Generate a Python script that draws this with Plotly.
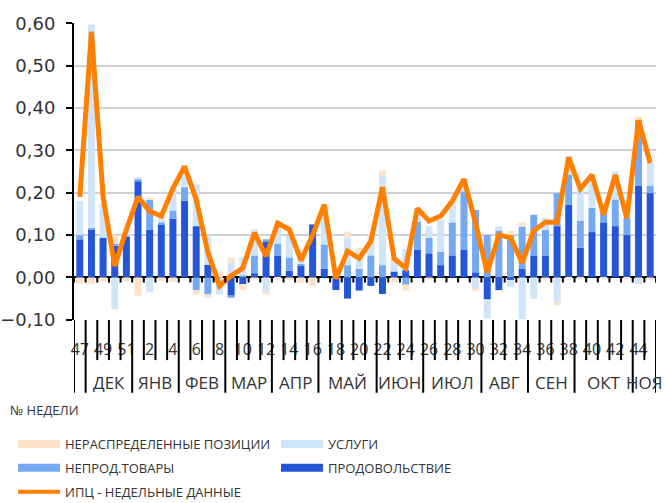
import plotly.graph_objects as go

# недели (ось X) и месяцы
weeks = ["47", "48", "49", "50", "51"] + [str(w) for w in range(1, 46)]
month_names = ["", "ДЕК", "ЯНВ", "ФЕВ", "МАР", "АПР", "МАЙ", "ИЮН", "ИЮЛ", "АВГ", "СЕН", "ОКТ", "НОЯ"]
month_sizes = [1, 4, 4, 4, 4, 4, 5, 4, 5, 4, 4, 5, 2]

# вклады в недельную инфляцию, п.п.
food = [0.09, 0.113, 0.094, 0.075, 0.097, 0.227, 0.112, 0.125, 0.139, 0.181,
        0.121, 0.03, 0.0, -0.043, -0.016, 0.01, 0.085, 0.052, 0.016, 0.027,
        0.125, 0.02, -0.03, -0.05, -0.031, -0.02, -0.039, 0.014, 0.017, 0.066,
        0.057, 0.029, 0.052, 0.066, 0.012, -0.052, -0.03, -0.006, 0.02, 0.052,
        0.052, 0.121, 0.172, 0.07, 0.107, 0.13, 0.121, 0.1, 0.217, 0.199]
nonfood = [0.01, 0.004, 0.0, 0.005, 0.0, 0.005, 0.073, 0.005, 0.019, 0.032,
           -0.03, -0.04, 0.0, -0.005, 0.005, 0.042, 0.005, 0.028, 0.031, 0.005,
           0.0, 0.058, 0.0, 0.029, 0.02, 0.052, 0.029, 0.0, -0.017, 0.065,
           0.036, 0.032, 0.078, 0.137, 0.147, 0.1, 0.111, 0.1, 0.1, 0.096,
           0.06, 0.078, 0.07, 0.064, 0.057, 0.022, 0.063, 0.04, 0.154, 0.018]
services = [0.08, 0.48, 0.08, -0.075, 0.01, 0.005, -0.035, 0.02, 0.06, 0.045,
            0.098, 0.07, -0.04, 0.035, 0.042, 0.061, -0.035, 0.045, 0.052, 0.013,
            0.0, 0.094, 0.025, 0.065, 0.039, 0.04, 0.211, 0.033, 0.05, 0.032,
            0.028, 0.076, 0.05, 0.025, -0.027, -0.044, 0.01, -0.016, -0.098, -0.05,
            0.028, -0.06, 0.045, 0.073, 0.07, 0.0, 0.066, 0.0, -0.016, 0.053]
unalloc = [-0.015, -0.015, -0.01, 0.02, -0.01, -0.043, 0.004, -0.008, -0.01, 0.005,
           -0.01, -0.008, 0.012, 0.012, -0.014, -0.005, -0.005, -0.003, -0.005, -0.012,
           -0.02, 0.0, 0.0, 0.014, 0.011, 0.01, 0.012, -0.012, -0.014, 0.0,
           -0.005, 0.0, 0.0, 0.005, -0.004, 0.0, 0.0, 0.01, 0.01, 0.0,
           -0.005, -0.006, -0.003, -0.003, 0.0, -0.003, 0.0, -0.003, 0.008, -0.005]
cpi = [0.19, 0.58, 0.19, 0.027, 0.113, 0.19, 0.156, 0.145, 0.21, 0.262,
       0.184, 0.059, -0.02, 0.004, 0.022, 0.105, 0.05, 0.128, 0.113, 0.04,
       0.10, 0.172, -0.003, 0.062, 0.045, 0.085, 0.213, 0.045, 0.022, 0.163,
       0.133, 0.145, 0.18, 0.232, 0.128, 0.012, 0.10, 0.094, 0.035, 0.11,
       0.13, 0.13, 0.283, 0.209, 0.242, 0.148, 0.242, 0.14, 0.371, 0.27]

FONT = "Open Sans"
TXT = "#333333"
C_FOOD = "#2456D8"
C_NONFOOD = "#75AAF3"
C_SERV = "#D0E4FA"
C_UNALL = "#FDE2CA"
C_CPI = "#FF7F00"

fig = go.Figure()

# столбцы (снизу вверх)
bars = [("ПРОДОВОЛЬСТВИЕ", food, C_FOOD),
        ("НЕПРОД.ТОВАРЫ", nonfood, C_NONFOOD),
        ("УСЛУГИ", services, C_SERV),
        ("НЕРАСПРЕДЕЛЕННЫЕ ПОЗИЦИИ", unalloc, C_UNALL)]
for name, vals, col in bars:
    fig.add_trace(go.Bar(x=weeks, y=vals, name=name, marker_color=col,
                         marker_line_width=0, showlegend=False))

fig.add_trace(go.Scatter(x=weeks, y=cpi, mode="lines", name="ИПЦ - НЕДЕЛЬНЫЕ ДАННЫЕ",
                         line=dict(color=C_CPI, width=5), showlegend=False))

# легенда: две колонки, широкие полосы как в оригинале
legend_items = [("НЕРАСПРЕДЕЛЕННЫЕ ПОЗИЦИИ", C_UNALL, 8, "legend"),
                ("НЕПРОД.ТОВАРЫ", C_NONFOOD, 8, "legend"),
                ("ИПЦ - НЕДЕЛЬНЫЕ ДАННЫЕ", C_CPI, 4, "legend"),
                ("УСЛУГИ", C_SERV, 8, "legend2"),
                ("ПРОДОВОЛЬСТВИЕ", C_FOOD, 8, "legend2")]
for name, col, w, lg in legend_items:
    fig.add_trace(go.Scatter(x=[None], y=[None], mode="lines", name=name,
                             legend=lg, legendgroup=name,
                             line=dict(color=col, width=w)))

# деления оси категорий
shapes = []
n = len(weeks)
bounds = [-0.5]
for s in month_sizes:
    bounds.append(bounds[-1] + s)
for k in range(n + 1):
    pos = k - 0.5
    long_line = pos in bounds
    shapes.append(dict(type="line", xref="x", yref="paper", x0=pos, x1=pos,
                       y0=0, y1=-0.245 if long_line else -0.135,
                       line=dict(color="black", width=2)))
    shapes.append(dict(type="line", xref="x", yref="y", x0=pos, x1=pos,
                       y0=0, y1=-0.012, line=dict(color="black", width=2)))

annotations = []
for i, m in enumerate(month_names):
    if m:
        annotations.append(dict(x=(bounds[i] + bounds[i + 1]) / 2, xref="x",
                                y=-0.212, yref="paper", text=m, showarrow=False,
                                font=dict(family=FONT, size=17, color=TXT),
                                yanchor="middle"))
annotations.append(dict(x=(8 - 74) / 582, xref="paper", y=(320 - 410) / 297, yref="paper",
                        text="№ НЕДЕЛИ", showarrow=False, xanchor="left", yanchor="middle",
                        font=dict(family=FONT, size=13, color=TXT)))

leg_common = dict(xref="container", yref="container", xanchor="left", yanchor="top",
                  orientation="v", tracegroupgap=4, itemwidth=42,
                  bgcolor="rgba(0,0,0,0)",
                  font=dict(family=FONT, size=13, color=TXT))

fig.update_layout(
    width=665, height=503,
    margin=dict(l=74, r=9, t=23, b=183, autoexpand=False),
    barmode="relative", bargap=0.4,
    plot_bgcolor="white", paper_bgcolor="white",
    separators=", ",
    font=dict(family=FONT, color=TXT),
    shapes=shapes, annotations=annotations,
    legend=dict(x=13 / 665, y=1 - 429 / 503, **leg_common),
    legend2=dict(x=276 / 665, y=1 - 429 / 503, **leg_common),
)
fig.update_xaxes(type="category", tickvals=weeks[0::2], ticktext=weeks[0::2],
                 tickangle=0, ticks="", showgrid=False, showline=False,
                 automargin=False,
                 ticklabelstandoff=18, tickfont=dict(family=FONT, size=16, color=TXT),
                 range=[-0.5, n - 0.5])
fig.update_yaxes(range=[-0.1005, 0.6005], dtick=0.1, tick0=0, tickformat=".2f",
                 automargin=False,
                 showgrid=True, gridcolor="#CFCFD6", gridwidth=2,
                 zeroline=True, zerolinecolor="black", zerolinewidth=2,
                 showline=True, linecolor="black", linewidth=2,
                 ticks="outside", ticklen=6, tickwidth=2, tickcolor="black",
                 ticklabelstandoff=7,
                 tickfont=dict(family="DejaVu Sans", size=18, color=TXT))

fig.write_html("out.html", config={"displayModeBar": False},
               post_script="document.body.style.margin='0';")
